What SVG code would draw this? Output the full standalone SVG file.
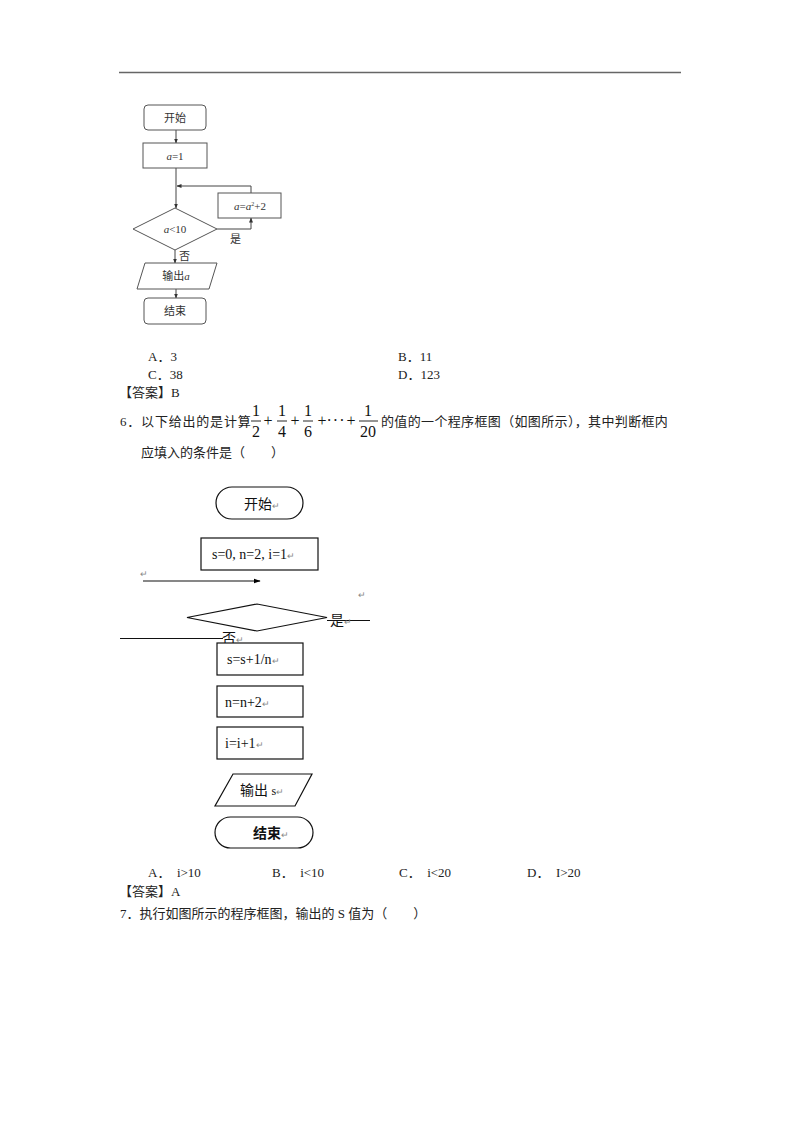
<svg xmlns="http://www.w3.org/2000/svg" width="800" height="1132" viewBox="0 0 800 1132">
<defs>
<marker id="ah" viewBox="0 0 10 10" refX="9" refY="5" markerWidth="5" markerHeight="5" orient="auto"><path d="M0,1 L10,5 L0,9 z" fill="#333"/></marker>
<marker id="ah2" viewBox="0 0 10 10" refX="9" refY="5" markerWidth="6" markerHeight="6" orient="auto"><path d="M0,1.5 L10,5 L0,8.5 z" fill="#000"/></marker>
<style>
.t{font-family:"Liberation Serif","Noto Sans CJK SC",serif;font-size:13px;fill:#222}
.f1{font-family:"Liberation Serif","Noto Sans CJK SC",serif;font-size:11px;fill:#333}
.f2{font-family:"Liberation Serif","Noto Sans CJK SC",serif;font-size:14px;fill:#111}
.fr{font-family:"Liberation Serif",serif;font-size:16px;fill:#111}
.r{font-family:"Liberation Sans",sans-serif;font-size:9px;fill:#888}
.s1{fill:#fff;stroke:#555;stroke-width:1}
.s2{fill:#fff;stroke:#111;stroke-width:1.2}
.c1{fill:none;stroke:#444;stroke-width:1}
.c2{fill:none;stroke:#111;stroke-width:1.2}
</style>
</defs>
<rect width="800" height="1132" fill="#fff"/>
<line x1="119" y1="72.5" x2="681" y2="72.5" stroke="#666" stroke-width="1.5"/>

<!-- Flowchart 1 -->
<g id="connectors1">
<line class="c1" x1="176" y1="130" x2="176" y2="143" marker-end="url(#ah)"/>
<line class="c1" x1="176" y1="168" x2="176" y2="208" marker-end="url(#ah)"/>
<polyline class="c1" points="251,193 251,186 177,186" marker-end="url(#ah)"/>
<polyline class="c1" points="217,229 251,229 251,218" marker-end="url(#ah)"/>
<line class="c1" x1="175" y1="250" x2="175" y2="263" marker-end="url(#ah)"/>
<line class="c1" x1="176" y1="289" x2="176" y2="298" marker-end="url(#ah)"/>
<text class="f1" x="230" y="243">是</text>
<text class="f1" x="179" y="260">否</text>
</g>
<g id="n1-start"><rect class="s1" x="144" y="105" width="62" height="25" rx="4"/><text class="f1" x="175" y="122" text-anchor="middle">开始</text></g>
<g id="n1-a1"><rect class="s1" x="143" y="143" width="64" height="25"/><text class="f1" x="175" y="160" text-anchor="middle"><tspan font-style="italic">a</tspan>=1</text></g>
<g id="n1-upd"><rect class="s1" x="218" y="193" width="63" height="25"/><text class="f1" x="250" y="210" text-anchor="middle" font-size="10"><tspan font-style="italic">a</tspan>=<tspan font-style="italic">a</tspan><tspan font-size="6" dy="-4">2</tspan><tspan dy="4">+2</tspan></text></g>
<g id="n1-cond"><polygon class="s1" points="133,229 175,208 217,229 175,250"/><text class="f1" x="175" y="233" text-anchor="middle"><tspan font-style="italic">a</tspan>&lt;10</text></g>
<g id="n1-out"><polygon class="s1" points="145,263 217,263 209,289 137,289"/><text class="f1" x="176" y="280" text-anchor="middle">输出<tspan font-style="italic">a</tspan></text></g>
<g id="n1-end"><rect class="s1" x="144" y="298" width="62" height="26" rx="4"/><text class="f1" x="175" y="315" text-anchor="middle">结束</text></g>

<!-- Text -->
<text class="t" x="148" y="361">A．3</text>
<text class="t" x="398" y="361">B．11</text>
<text class="t" x="148" y="379">C．38</text>
<text class="t" x="398" y="379">D．123</text>
<text class="t" x="119" y="397">【答案】B</text>
<text class="t" x="120" y="426" letter-spacing="0.8">6．以下给出的是计算</text>
<g class="fr" text-anchor="middle">
<text x="256" y="416">1</text><text x="256" y="437">2</text>
<text x="268" y="426">+</text>
<text x="282" y="416">1</text><text x="282" y="437">4</text>
<text x="295" y="426">+</text>
<text x="308" y="416">1</text><text x="308" y="437">6</text>
<text x="322" y="426">+</text>
<text x="336" y="426" letter-spacing="1">···</text>
<text x="351" y="426">+</text>
<text x="368" y="416">1</text><text x="368" y="437">20</text>
</g>
<g stroke="#111" stroke-width="0.9">
<line x1="251" y1="421" x2="261" y2="421"/>
<line x1="277" y1="421" x2="287" y2="421"/>
<line x1="303" y1="421" x2="313" y2="421"/>
<line x1="359" y1="421" x2="378" y2="421"/>
</g>
<text class="t" x="381" y="426" letter-spacing="0.35">的值的一个程序框图（如图所示），其中判断框内</text>
<text class="t" x="141" y="457">应填入的条件是（　　）</text>

<!-- Flowchart 2 -->
<g id="connectors2">
<line class="c2" x1="143" y1="581" x2="260" y2="581" marker-end="url(#ah2)"/>
<line class="c2" x1="327" y1="620.5" x2="370" y2="620.5"/>
<line class="c2" x1="120" y1="638.5" x2="223" y2="638.5"/>
<text class="r" x="140" y="577">↵</text>
<text class="r" x="358" y="598">↵</text>
<text class="f2" x="330" y="625" font-size="13">是<tspan class="r">↵</tspan></text>
<text class="f2" x="222" y="643" font-size="13">否<tspan class="r">↵</tspan></text>
</g>
<g id="n2-start"><rect class="s2" x="216" y="487" width="87" height="32" rx="16"/><text class="f2" x="244" y="509">开始<tspan class="r">↵</tspan></text></g>
<g id="n2-init"><rect class="s2" x="201" y="538" width="117" height="32"/><text class="f2" x="212" y="559">s=0, n=2, i=1<tspan class="r">↵</tspan></text></g>
<g id="n2-cond"><polygon class="s2" points="187,617.5 257,604 327,617.5 257,631"/></g>
<g id="n2-s"><rect class="s2" x="217" y="643" width="86" height="32"/><text class="f2" x="227" y="664">s=s+1/n<tspan class="r">↵</tspan></text></g>
<g id="n2-n"><rect class="s2" x="217" y="686" width="86" height="31"/><text class="f2" x="225" y="707">n=n+2<tspan class="r">↵</tspan></text></g>
<g id="n2-i"><rect class="s2" x="217" y="727" width="86" height="32"/><text class="f2" x="225" y="748">i=i+1<tspan class="r">↵</tspan></text></g>
<g id="n2-out"><polygon class="s2" points="233,774 312,774 295,806 215,806" stroke="#444"/><text class="f2" x="240" y="795" fill="#444">输出 <tspan font-size="12">s</tspan><tspan class="r">↵</tspan></text></g>
<g id="n2-end"><rect class="s2" x="215" y="817" width="98" height="31" rx="15.5" stroke="#333"/><text class="f2" x="253" y="838" font-weight="bold" font-size="13">结束<tspan class="r" font-weight="normal">↵</tspan></text></g>

<text class="t" x="148" y="877">A．　i&gt;10</text>
<text class="t" x="272" y="877">B．　i&lt;10</text>
<text class="t" x="399" y="877">C．　i&lt;20</text>
<text class="t" x="527" y="877">D．　I&gt;20</text>
<text class="t" x="119" y="896">【答案】A</text>
<text class="t" x="120" y="918">7．执行如图所示的程序框图，输出的 S 值为（　　）</text>
</svg>
